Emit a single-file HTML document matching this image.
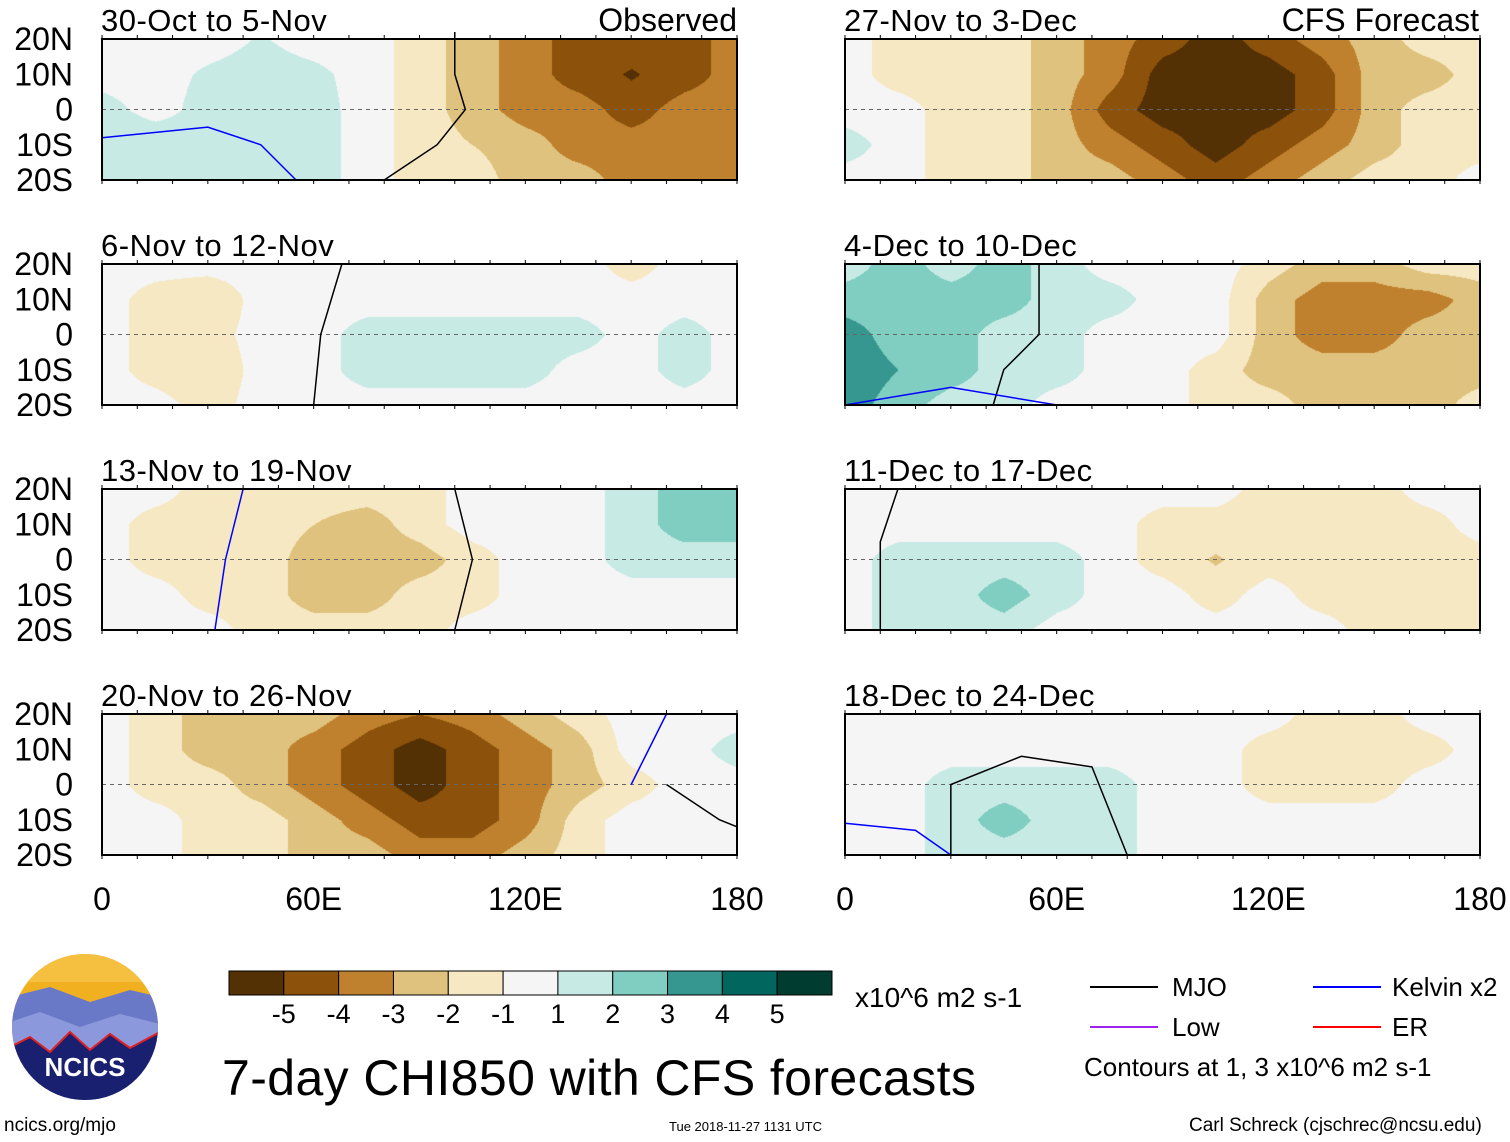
<!DOCTYPE html>
<html><head><meta charset="utf-8">
<style>
body{margin:0;background:#fff;width:1510px;height:1142px;position:relative;overflow:hidden;font-family:"Liberation Sans",sans-serif;color:#000}
.t{position:absolute;white-space:nowrap;line-height:1}
canvas{position:absolute}
</style></head><body>
<svg id="svg" width="1510" height="1142" style="position:absolute;left:0;top:0"></svg>
<script>
const panelTitles=["30-Oct to 5-Nov","6-Nov to 12-Nov","13-Nov to 19-Nov","20-Nov to 26-Nov","27-Nov to 3-Dec","4-Dec to 10-Dec","11-Dec to 17-Dec","18-Dec to 24-Dec"];
const lons=[0,15,30,45,60,75,90,105,120,135,150,165,180];
const lats=[20,10,0,-10,-20];
const field1=[[0,0,0,0.6,0,0,-1,-2,-3,-4,-4,-4,-3],[0,0,0.7,1,0.8,0,-1,-2,-3,-4,-4.6,-4,-3],[1,0,1,1,1,0,-1,-2,-3,-3,-4,-3,-3],[1.5,1.5,1,1,1,0,-1,-1.5,-2,-3,-3,-3,-3],[1.5,1,1,1,1,0,-1,-1,-2,-2,-3,-3,-3]];
const field2=[[0,0,0,0,0,0,0,0,0,0,-1,0,0],[0,-1,-1.5,0,0,0,0,0,0,0,0,0,0],[0,-1,-1,0,0,1,1,1,1,1,0,1,0],[0,-1,-1.5,0,0,1,1,1,1,0,0,1,0],[0,0,-1,0,0,0,0,0,0,0,0,0,0]];
const field3=[[0,0,-1,-1,-1,-1,-1,0,0,0,1,2,2.5],[0,-1,-1,-1,-1.5,-2,-1,0,0,0,1,2,2],[0,-1,-1,-1,-2,-2,-2,-1,0,0,1,1,1],[0,0,-1,-1,-2,-2,-1,-1,0,0,0,0,0],[0,0,0,-1,-1,-1,-1,0,0,0,0,0,0]];
const field4=[[0,-1,-2,-2,-2,-3,-3.5,-3,-2,-1,0,0,0],[0,-1,-2,-2,-3,-4,-5,-4,-3,-2,0,0,1],[0,-1,-1,-2,-3,-4,-5,-4,-3,-2,-1,0,0],[0,0,-1,-1,-2,-3,-4,-4,-3,-1,0,0,0],[0,0,-1,-1,-2,-2,-3,-3,-2,-1,0,0,0]];
const field5=[[0,-1,-1,-1,-2,-3,-4,-5,-4,-3,-2,-1,-1],[0,-1,-1,-1,-2,-3,-5,-5,-5,-4,-2,-2,-1],[0,0,-1,-1,-2,-4,-5,-5,-5,-4,-2,-1,-1],[1,0,-1,-1,-2,-3,-4,-5,-4,-3,-2,-1,-1],[0,0,-1,-1,-2,-2,-3,-4,-3,-2,-1,-1,0]];
const field6=[[1,2,1,2,1,0,0,0,-1,-2,-2,-1,-1],[2,2,2,2,1,1,0,0,-2,-3,-3,-3,-2],[3,2,2,1,1,0,0,0,-2,-3,-3,-2,-2],[3.2,2.5,2,1,1,0,0,-1,-2,-2,-2,-2,-2],[3,2,1,1,0,0,0,-1,-1,-2,-2,-2,-1]];
const field7=[[0,0,0,0,0,0,0,0,-1,-1,-1,0,0],[0,0,0,0,0,0,-1,-1,-1,-1,-1,-1,0],[0,1,1,1,1,0,-1,-1.6,-1,-1,-1,-1,-1],[0,1,1,2,1,0,0,-1,0,-1,-1,-1,-1],[0,1,1,1,0,0,0,0,0,0,-1,-1,-1]];
const field8=[[0,0,0,0,0,0,0,0,0,-1,-1,0,0],[0,0,0,0,0,0,0,0,-1,-1,-1,-1,0],[0,0,1,1,1,1,0,0,-1,-1,-1,0,0],[0,0,1,2,1,1,0,0,0,0,0,0,0],[0,0,1,1,1,1,0,0,0,0,0,0,0]];
const fields=[field1,field2,field3,field4,field5,field6,field7,field8];
const mjo1=[[100,22],[100,10],[103,0],[95,-10],[80,-20]];
const mjo2=[[60,-20],[62,0],[68,20]];
const mjo3=[[100,20],[105,0],[100,-20]];
const mjo4=[[160,0],[175,-10],[180,-12]];
const mjo6=[[55,20],[55,0],[45,-10],[42,-20]];
const mjo7=[[15,20],[10,5],[10,-20]];
const mjo8=[[30,-20],[30,0],[50,8],[70,5],[80,-20]];
const mjoLines=[[mjo1],[mjo2],[mjo3],[mjo4],[],[mjo6],[mjo7],[mjo8]];
const kelvin1=[[0,-8],[30,-5],[45,-10],[55,-20]];
const kelvin6=[[0,-20],[30,-15],[60,-20]];
const kelvinLines=[[kelvin1],[],[[[40,20],[35,0],[32,-20]]],[[[150,0],[160,20]]],[],[kelvin6],[],[[[0,-11],[20,-13],[30,-20]]]];
const cbColors=["#543005","#8c510a","#bf812d","#dfc27d","#f6e8c3","#f5f5f5","#c7eae5","#80cdc1","#35978f","#01665e","#003c30"];
const cbTicks=["-5","-4","-3","-2","-1","1","2","3","4","5"];

const NS="http://www.w3.org/2000/svg";
const svg=document.getElementById('svg');
const colX=[102,845], rowY=[39,264,489,714], PW=635, PH=141;
function xs(lon,c){return colX[c]+lon/180*PW;}
function ys(lat,r){return rowY[r]+(20-lat)/40*PH;}
function mk(tag,attrs,parent){const e=document.createElementNS(NS,tag);for(const k in attrs)e.setAttribute(k,attrs[k]);(parent||svg).appendChild(e);return e;}
function colorFor(v){let i=Math.round(v)+5;if(i<0)i=0;if(i>10)i=10;return cbColors[i];}
function interp(f,lon,lat){
  let fx=lon/15, fy=(20-lat)/10;
  let i=Math.min(11,Math.floor(fx)), j=Math.min(3,Math.floor(fy));
  let tx=fx-i, ty=fy-j;
  const a=f[j][i],b=f[j][i+1],c=f[j+1][i],d=f[j+1][i+1];
  return a*(1-tx)*(1-ty)+b*tx*(1-ty)+c*(1-tx)*ty+d*tx*ty;
}
for(let p=0;p<8;p++){
  const c=p<4?0:1, r=p%4;
  const cv=document.createElement('canvas');
  cv.width=PW;cv.height=PH;cv.style.left=colX[c]+'px';cv.style.top=rowY[r]+'px';
  
  
  document.body.insertBefore(cv,svg);
  const ctx=cv.getContext('2d');
  for(let y=0;y<PH;y+=1)for(let x=0;x<PW;x+=1){
    const lon=x/PW*180, lat=20-y/PH*40;
    ctx.fillStyle=colorFor(interp(fields[p],lon,lat));
    ctx.fillRect(x,y,1,1);
  }
  const g=mk('g',{});
  
  
  const eq=mk('line',{x1:xs(0,c),x2:xs(180,c),y1:ys(0,r),y2:ys(0,r),stroke:'#666','stroke-dasharray':'4,4','stroke-width':1},g);
  
  
  mjoLines[p].forEach(l=>{const pl=mk('polyline',{points:l.map(q=>xs(q[0],c)+','+ys(q[1],r)).join(' '),fill:'none',stroke:'#000','stroke-width':1.5},g);
    
    });
  kelvinLines[p].forEach(l=>{const pl=mk('polyline',{points:l.map(q=>xs(q[0],c)+','+ys(q[1],r)).join(' '),fill:'none',stroke:'#0000ff','stroke-width':1.5},g);
    
    });
  const fr=mk('rect',{x:colX[c],y:rowY[r],width:PW,height:PH,fill:'none',stroke:'#000','stroke-width':2},g);
  
  
  for(let lon=0;lon<=180;lon+=10){
    mk('line',{x1:xs(lon,c),x2:xs(lon,c),y1:rowY[r],y2:rowY[r]-4,stroke:'#000'},g);
    mk('line',{x1:xs(lon,c),x2:xs(lon,c),y1:rowY[r]+PH,y2:rowY[r]+PH+4,stroke:'#000'},g);
  }
  const tt=mk('text',{x:colX[c]-1,y:rowY[r]-8,'font-size':31,'letter-spacing':0.5},g);tt.textContent=panelTitles[p];
  
  
  if(c===0){['20N','10N','0','10S','20S'].forEach((s,k)=>{const t=mk('text',{x:73,y:ys(20-k*10,r)+11,'font-size':32,'text-anchor':'end'},g);t.textContent=s;
    
    });}
}
[['Observed',737],['CFS Forecast',1479]].forEach(a=>{const t=mk('text',{x:a[1],y:31,'font-size':32,'text-anchor':'end'});t.textContent=a[0];
  
  });
for(let c=0;c<2;c++)['0','60E','120E','180'].forEach((s,k)=>{const t=mk('text',{x:xs(k*60,c),y:910,'font-size':32,'text-anchor':'middle'});t.textContent=s;
  
  });
const cbw=603/11;
cbColors.forEach((col,i)=>{const r=mk('rect',{x:229+i*cbw,y:971,width:cbw,height:24,fill:col,stroke:'#000'});
  
  });
cbTicks.forEach((s,i)=>{const t=mk('text',{x:229+(i+1)*cbw,y:1023,'font-size':27,'text-anchor':'middle'});t.textContent=s;
  
  });
[[1090,987,'#000'],[1313,987,'#0000ff'],[1090,1027,'#a020f0'],[1313,1027,'#ff0000']].forEach(a=>{const l=mk('line',{x1:a[0],x2:a[0]+68,y1:a[1],y2:a[1],stroke:a[2],'stroke-width':2});
  
  });
</script>
<div class="t" style="left:855px;top:984px;font-size:28px">x10^6 m2 s-1</div>
<div class="t" style="left:1172px;top:974px;font-size:26px">MJO</div>
<div class="t" style="left:1392px;top:974px;font-size:26px">Kelvin x2</div>
<div class="t" style="left:1172px;top:1014px;font-size:26px">Low</div>
<div class="t" style="left:1392px;top:1014px;font-size:26px">ER</div>
<div class="t" style="left:1084px;top:1054px;font-size:26px">Contours at 1, 3 x10^6 m2 s-1</div>
<div class="t" style="left:222px;top:1053px;font-size:50px;letter-spacing:0.4px">7-day CHI850 with CFS forecasts</div>
<div class="t" style="left:4px;top:1116px;font-size:19px">ncics.org/mjo</div>
<div class="t" style="left:669px;top:1120px;font-size:13px">Tue 2018-11-27 1131 UTC</div>
<div class="t" style="left:1189px;top:1116px;font-size:19px">Carl Schreck (cjschrec@ncsu.edu)</div>
<svg width="150" height="150" style="position:absolute;left:10px;top:952px">
<defs><clipPath id="cc"><circle cx="75" cy="75" r="73"/></clipPath></defs>
<g clip-path="url(#cc)">
<rect x="0" y="0" width="150" height="150" fill="#f0b020"/>
<rect x="0" y="0" width="150" height="30" fill="#f5c040"/>
<path d="M0 45 L40 35 L80 50 L120 38 L150 45 L150 150 L0 150Z" fill="#6a78c8"/>
<path d="M0 70 L30 60 L70 75 L110 62 L150 72 L150 150 L0 150Z" fill="#8c98dc"/>
<path d="M0 95 L20 85 L40 100 L60 80 L80 98 L100 82 L120 96 L150 80 L150 150 L0 150Z" fill="#1a2070"/>
<polyline points="0,95 20,85 40,100 60,80 80,98 100,82 120,96 150,80" fill="none" stroke="#e02020" stroke-width="2"/>
</g>
<text x="75" y="124" font-size="26" font-weight="bold" fill="#fff" text-anchor="middle" font-family="Liberation Sans, sans-serif">NCICS</text>
</svg>
</body></html>
